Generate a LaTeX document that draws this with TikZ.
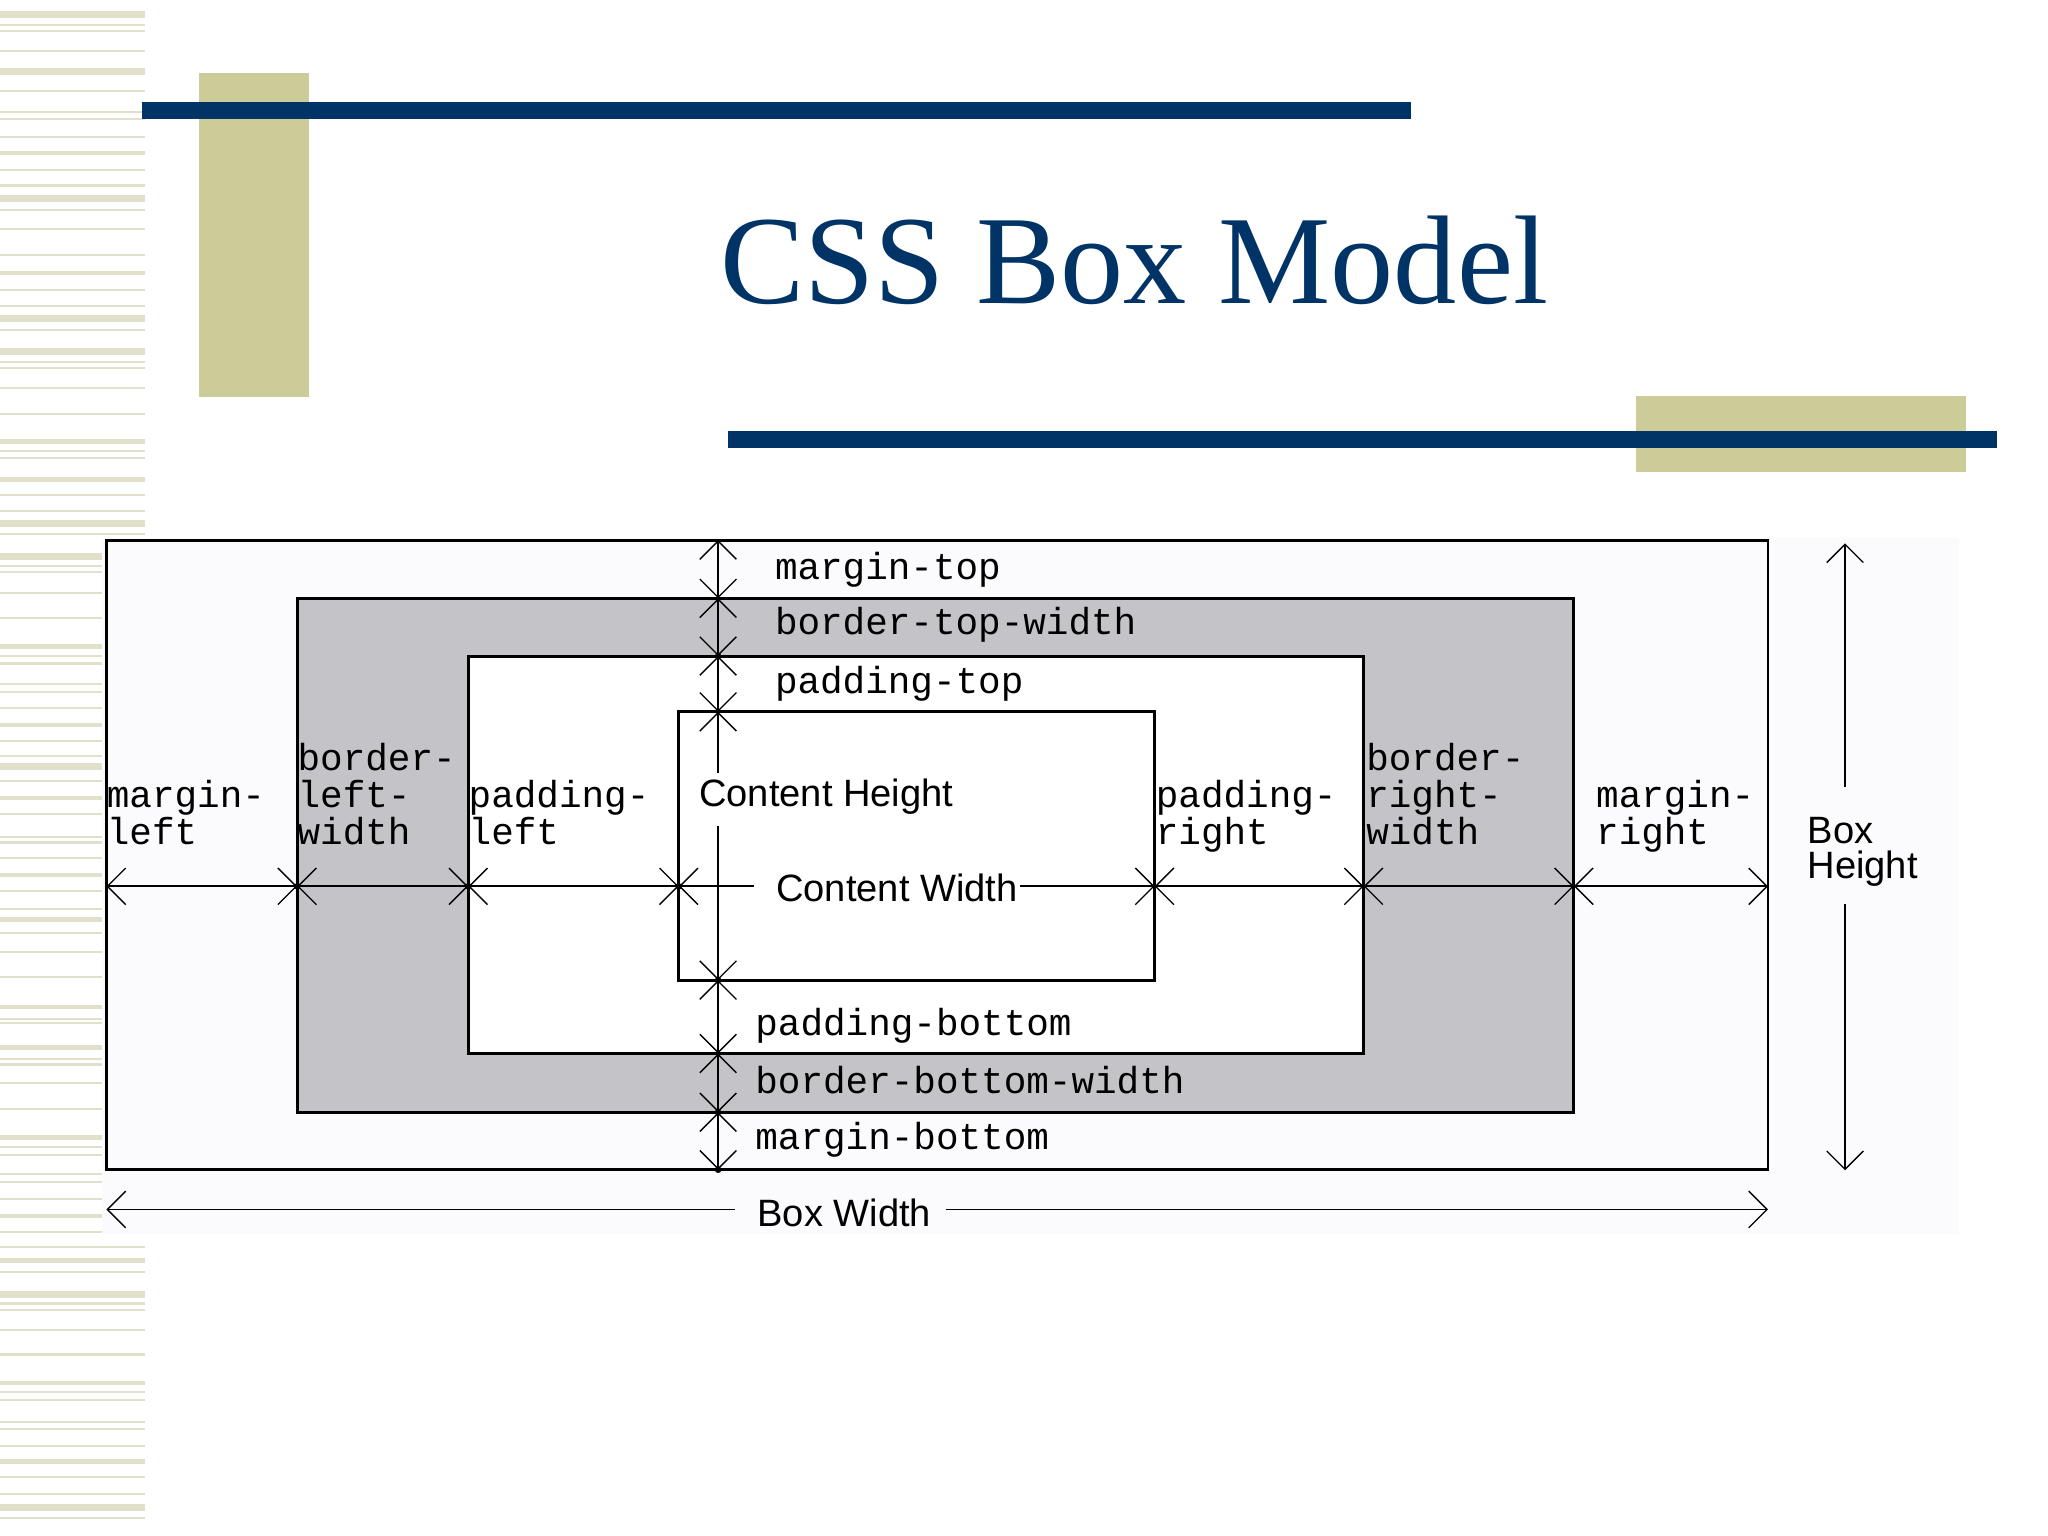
\documentclass[tikz,border=0pt]{standalone}
\usepackage{fontspec}
\setmainfont{Liberation Serif}
\setsansfont{Liberation Sans}
\setmonofont{Liberation Mono}
\usepackage{tikz}
\usetikzlibrary{arrows.meta}
\definecolor{slide-navy}{HTML}{003366}
\definecolor{slide-khaki}{HTML}{CCCC99}
\definecolor{slide-stripe}{HTML}{E0E0CB}
\definecolor{box-grey}{HTML}{C4C3C8}
\definecolor{box-paper}{HTML}{FBFBFD}

\begin{document}
\begin{tikzpicture}[x=0.02cm, y=-0.02cm,
    >={Straight Barb[length=0.28cm, width=0.56cm, line width=0.6pt]}]

    \useasboundingbox (0,0) rectangle (1568,1176);

    % stripes on the left edge
    \foreach \y/\w in {11/5.5, 19/1.6, 24/1.6, 39/1.6, 55/5.5, 70/1.6, 86/1.6, 91/1.6,
                       105/1.6, 117/3.5, 130/1.6, 142/1.6, 152/5.5, 161/1.6, 175/1.6, 195/1.6,
                       209/3.5, 222/1.6, 234/1.6, 244/5.5, 253/1.6, 269/5.5, 277/1.6, 282/1.6,
                       297/1.6, 317/1.6, 338/3.5, 345/1.6, 351/1.6, 367/3.5, 379/1.6, 391/1.6,
                       401/5.5, 409/1.6, 426/5.5, 433/1.6, 438/1.6, 454/1.6, 473/1.6, 495/3.5,
                       502/1.6, 508/1.6, 524/1.6, 530/1.6, 542/1.6, 555/3.5, 567/1.6, 579/1.6,
                       587/5.5, 598/1.6, 611/3.5, 623/1.6, 641/1.6, 645/1.6, 657/1.6, 670/3.5,
                       682/1.6, 696/1.6, 704/3.5, 714/1.6, 729/1.6, 748/1.6, 771/3.5, 780/1.6,
                       783/1.6, 802/3.5, 811/1.6, 815/1.6, 829/1.6, 849/1.6, 871/3.5, 878/1.6,
                       884/1.6, 899/1.6, 905/1.6, 918/1.6, 931/3.5, 943/1.6, 955/1.6, 965/3.5,
                       974/1.6, 991/5.5, 998/1.6, 1003/1.6, 1018/1.6, 1037/1.6, 1059/3.5, 1066/1.6,
                       1072/1.6, 1089/1.6, 1094/1.6, 1107/1.6, 1119/3.5, 1131/1.6, 1144/1.6, 1154/5.5,
                       1162/1.6}
        \fill[slide-stripe] (0,{\y-\w/2}) rectangle (111,{\y+\w/2});

    % title bars
    \fill[slide-khaki] (152,55.6) rectangle (236.6,304);
    \fill[slide-navy] (109,78.4) rectangle (1080,91.4);
    \fill[slide-khaki] (1252.3,303.2) rectangle (1505.1,361.4);
    \fill[slide-navy] (557.7,329.8) rectangle (1528.8,342.8);

    % title
    \node[font=\fontsize{55}{55}\selectfont, text=slide-navy, anchor=base] (title) at (868.5,232.3) {CSS Box Model};

    % diagram background
    \fill[box-paper] (78,412) rectangle (1500,945);

    % boxes
    \begin{scope}[line width=1.3pt]
        \draw[fill=box-paper] (81.5,413.5) rectangle (1353.6,895.6);
        \draw[fill=box-grey] (227.5,458.1) rectangle (1205,851.6);
        \draw[fill=white] (358.5,502.3) rectangle (1044,806.6);
        \draw[fill=white] (519.7,545) rectangle (884,750.4);
    \end{scope}

    % measuring points
    \coordinate (h0) at (81.5,678.6);
    \coordinate (h1) at (227.5,678.6);
    \coordinate (h2) at (358.5,678.6);
    \coordinate (h3) at (519.7,678.6);
    \coordinate (h4) at (884,678.6);
    \coordinate (h5) at (1044,678.6);
    \coordinate (h6) at (1205,678.6);
    \coordinate (h7) at (1353.6,678.6);
    \coordinate (v0) at (549.8,413.5);
    \coordinate (v1) at (549.8,458.1);
    \coordinate (v2) at (549.8,502.3);
    \coordinate (v3) at (549.8,545);
    \coordinate (v4) at (549.8,750.4);
    \coordinate (v5) at (549.8,806.6);
    \coordinate (v6) at (549.8,851.6);
    \coordinate (v7) at (549.8,895.6);
    \coordinate (chtop) at (549.8,592);
    \coordinate (chbot) at (549.8,632.5);
    \coordinate (cwl) at (577.5,678.6);
    \coordinate (cwr) at (781,678.6);
    \coordinate (bw0) at (81.5,926);
    \coordinate (bwl) at (562.6,926);
    \coordinate (bwr) at (724,926);
    \coordinate (bw1) at (1353.6,926);
    \coordinate (bh0) at (1412.6,416);
    \coordinate (bht) at (1412.6,602.6);
    \coordinate (bhb) at (1412.6,692);
    \coordinate (bh1) at (1412.6,896);

    % dimension lines
    \begin{scope}[line width=0.85pt]
        \foreach \a/\b in {h0/h1, h1/h2, h2/h3, h4/h5, h5/h6, h6/h7,
                           v0/v1, v1/v2, v2/v3, v4/v5, v5/v6, v6/v7}
            \draw[<->] (\a) -- (\b);
        \draw[<-] (v3) -- (chtop);
        \draw[->] (chbot) -- (v4);
        \draw[<-] (h3) -- (cwl);
        \draw[->] (cwr) -- (h4);
        \draw[<-] (bw0) -- (bwl);
        \draw[->] (bwr) -- (bw1);
        \draw[<-] (bh0) -- (bht);
        \draw[->] (bhb) -- (bh1);
        \foreach \p in {h1, h2, h3, v2, v4, v6, v7}
            \fill (\p) circle (0.05cm);
    \end{scope}

    % property names (multi-line nodes sit on their last line)
    \begin{scope}[every node/.style={font=\ttfamily\fontsize{16.4}{16.2}\selectfont,
                                     inner sep=0pt, anchor=base west, align=left}]
        \node (mtop) at (593,444) {margin-top};
        \node (btop) at (593,486) {border-top-width};
        \node (ptop) at (593,530.6) {padding-top};
        \node (pbot) at (578,793) {padding-bottom};
        \node (bbot) at (578,837) {border-bottom-width};
        \node (mbot) at (578,880) {margin-bottom};
        \node (mleft) at (81.5,646.5) {margin-\\left};
        \node (bleft) at (227.5,646.5) {border-\\left-\\width};
        \node (pleft) at (358.5,646.5) {padding-\\left};
        \node (pright) at (884.6,646.5) {padding-\\right};
        \node (bright) at (1045.7,646.5) {border-\\right-\\width};
        \node (mright) at (1221.7,646.5) {margin-\\right};
    \end{scope}

    % sizes
    \begin{scope}[every node/.style={font=\sffamily\fontsize{16.6}{15.4}\selectfont,
                                     inner sep=0pt, anchor=base west, align=left}]
        \node (ch) at (535,617.3) {Content Height};
        \node (cw) at (594,690.4) {Content Width};
        \node (bh) at (1383.6,672.5) {Box\\Height};
        \node (bw) at (579.6,939) {Box Width};
    \end{scope}

\end{tikzpicture}
\end{document}
